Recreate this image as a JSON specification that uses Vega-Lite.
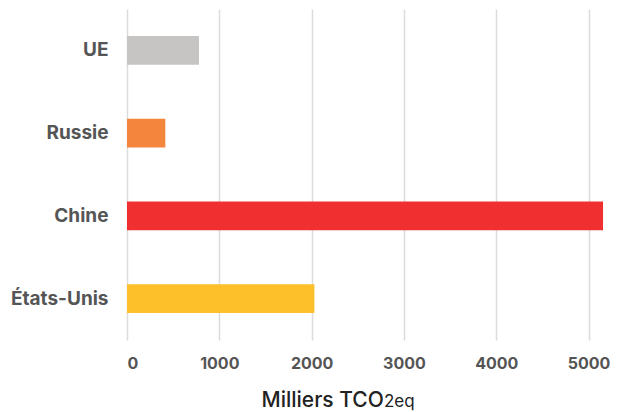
{
  "$schema": "https://vega.github.io/schema/vega-lite/v6.json",
  "autosize": {"type": "none"},
  "width": 480,
  "height": 331,
  "padding": {"left": 127, "top": 9, "right": 17, "bottom": 72},
  "background": "white",
  "config": {
    "font": "Inter",
    "view": {"stroke": null}
  },
  "title": {
    "text": "2eq",
    "orient": "bottom",
    "anchor": "start",
    "frame": "group",
    "baseline": "top",
    "dx": 257,
    "dy": -20,
    "fontSize": 17,
    "fontWeight": 400,
    "color": "#222222",
    "font": "Inter"
  },
  "data": {
    "values": [
      {"pays": "UE", "emissions": 780, "couleur": "#c6c5c3"},
      {"pays": "Russie", "emissions": 415, "couleur": "#f3853d"},
      {"pays": "Chine", "emissions": 5157, "couleur": "#ef2f30"},
      {"pays": "États-Unis", "emissions": 2030, "couleur": "#fdbf2a"}
    ]
  },
  "mark": {"type": "bar"},
  "encoding": {
    "y": {
      "field": "pays",
      "type": "nominal",
      "sort": null,
      "scale": {"paddingInner": 0.65, "paddingOuter": 0.325},
      "axis": {
        "title": null,
        "domain": false,
        "ticks": false,
        "labelPadding": 19,
        "labelFontSize": 19,
        "labelFontWeight": "bold",
        "labelColor": "#555555",
        "labelFont": "Inter"
      }
    },
    "x": {
      "field": "emissions",
      "type": "quantitative",
      "scale": {"domain": [0, 5200], "nice": false},
      "axis": {
        "values": [0, 1000, 2000, 3000, 4000, 5000],
        "format": "d",
        "title": "Milliers TCO",
        "titleX": 134,
        "titleY": 66,
        "titleAlign": "left",
        "titleBaseline": "alphabetic",
        "titleFontSize": 21,
        "titleFontWeight": 500,
        "titleColor": "#222222",
        "titleFont": "Inter",
        "domain": false,
        "ticks": false,
        "labelPadding": 15,
        "labelFontSize": 16,
        "labelFontWeight": "bold",
        "labelColor": "#555555",
        "labelFont": "Inter",
        "grid": true,
        "gridColor": "#dcdcdc",
        "gridWidth": 1.5
      }
    },
    "color": {"field": "couleur", "type": "nominal", "scale": null, "legend": null}
  }
}
